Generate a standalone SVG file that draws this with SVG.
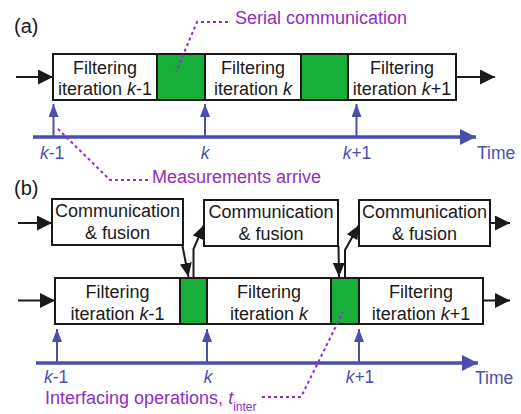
<svg xmlns="http://www.w3.org/2000/svg" width="521" height="414" viewBox="0 0 521 414">
<style>
.box{fill:#fff;stroke:#1a1a1a;stroke-width:2}
.grn{fill:#17ae3a;stroke:#1a1a1a;stroke-width:2}
.t{font-family:"Liberation Sans",Arial,sans-serif;font-size:18px;fill:#1a1a1a;text-anchor:middle}
.bl{font-family:"Liberation Sans",Arial,sans-serif;font-size:17.5px;fill:#4a4fae}
.pu{font-family:"Liberation Sans",Arial,sans-serif;font-size:18px;fill:#8e2fc0}
.lab{font-family:"Liberation Sans",Arial,sans-serif;font-size:20px;fill:#1a1a1a}
.blk{stroke:#1a1a1a;stroke-width:2;fill:none}
.blu{stroke:#4a4fae;stroke-width:2;fill:none}
.axis{stroke:#4a4fae;stroke-width:3.5;fill:none}
.dot{stroke:#8e2fc0;stroke-width:2;stroke-dasharray:3,3;fill:none}
</style>
<defs>
<marker id="ab" markerUnits="userSpaceOnUse" markerWidth="15" markerHeight="15" refX="15" refY="7.5" orient="auto"><path d="M0,0 L15,7.5 L0,15 z" fill="#1a1a1a"/></marker>
<marker id="ac" markerUnits="userSpaceOnUse" markerWidth="14" markerHeight="12" refX="14" refY="6" orient="auto"><path d="M0,0 L14,6 L0,12 z" fill="#1a1a1a"/></marker>
<marker id="au" markerUnits="userSpaceOnUse" markerWidth="13" markerHeight="10" refX="13" refY="5" orient="auto"><path d="M0,0 L13,5 L0,10 z" fill="#4a4fae"/></marker>
<marker id="ax" markerUnits="userSpaceOnUse" markerWidth="16" markerHeight="16" refX="16" refY="8" orient="auto"><path d="M0,0 L16,8 L0,16 z" fill="#4a4fae"/></marker>
</defs>

<text class="lab" x="14" y="33">(a)</text>
<text class="lab" x="14" y="195">(b)</text>

<!-- (a) row -->
<g id="a-filter-k-1"><rect class="box" x="53" y="54" width="104" height="46"/><text class="t" x="105" y="74">Filtering</text><text class="t" x="105" y="95">iteration <tspan font-style="italic">k</tspan>-1</text></g>
<g id="a-comm-1"><rect class="grn" x="157" y="54" width="48" height="46"/></g>
<g id="a-filter-k"><rect class="box" x="205" y="54" width="96" height="46"/><text class="t" x="253" y="74">Filtering</text><text class="t" x="253" y="95">iteration <tspan font-style="italic">k</tspan></text></g>
<g id="a-comm-2"><rect class="grn" x="301" y="54" width="47" height="46"/></g>
<g id="a-filter-k+1"><rect class="box" x="348" y="54" width="108" height="46"/><text class="t" x="402" y="74">Filtering</text><text class="t" x="402" y="95">iteration <tspan font-style="italic">k</tspan>+1</text></g>

<g id="a-labels">
<text class="bl" x="40" y="159"><tspan font-style="italic">k</tspan>-1</text>
<text class="bl" x="205" y="159" text-anchor="middle" font-style="italic">k</text>
<text class="bl" x="357" y="159" text-anchor="middle"><tspan font-style="italic">k</tspan>+1</text>
<text class="bl" x="477" y="159">Time</text>
<text class="pu" x="235" y="24" font-size="17">Serial communication</text>
<text class="pu" x="152" y="183">Measurements arrive</text>
</g>

<!-- (b) comm row -->
<g id="b-comm-1"><rect class="box" x="52" y="199" width="131" height="46"/><text class="t" x="117.5" y="217">Communication</text><text class="t" x="117.5" y="239">&amp; fusion</text></g>
<g id="b-comm-2"><rect class="box" x="204" y="200" width="134" height="46"/><text class="t" x="271" y="218">Communication</text><text class="t" x="271" y="240">&amp; fusion</text></g>
<g id="b-comm-3"><rect class="box" x="359" y="200" width="131" height="46"/><text class="t" x="424.5" y="218">Communication</text><text class="t" x="424.5" y="240">&amp; fusion</text></g>

<!-- (b) filter row -->
<g id="b-filter-k-1"><rect class="box" x="55" y="278" width="125" height="46"/><text class="t" x="117.5" y="298">Filtering</text><text class="t" x="117.5" y="320">iteration <tspan font-style="italic">k</tspan>-1</text></g>
<g id="b-inter-1"><rect class="grn" x="180" y="278" width="27" height="46"/></g>
<g id="b-filter-k"><rect class="box" x="207" y="278" width="124" height="46"/><text class="t" x="269" y="298">Filtering</text><text class="t" x="269" y="320">iteration <tspan font-style="italic">k</tspan></text></g>
<g id="b-inter-2"><rect class="grn" x="331" y="278" width="28" height="46"/></g>
<g id="b-filter-k+1"><rect class="box" x="359" y="278" width="124" height="46"/><text class="t" x="421" y="298">Filtering</text><text class="t" x="421" y="320">iteration <tspan font-style="italic">k</tspan>+1</text></g>

<g id="b-labels">
<text class="bl" x="44" y="383"><tspan font-style="italic">k</tspan>-1</text>
<text class="bl" x="208" y="383" text-anchor="middle" font-style="italic">k</text>
<text class="bl" x="360" y="383" text-anchor="middle"><tspan font-style="italic">k</tspan>+1</text>
<text class="bl" x="475" y="384">Time</text>
<text class="pu" x="45" y="404">Interfacing operations, <tspan font-style="italic">t</tspan><tspan font-size="12" dy="7">inter</tspan></text>
</g>

<g id="connectors">
<!-- (a) -->
<line class="blk" x1="16" y1="77" x2="53" y2="77" marker-end="url(#ab)"/>
<line class="blk" x1="456" y1="77" x2="495" y2="77" marker-end="url(#ab)"/>
<line class="axis" x1="33" y1="137" x2="476" y2="137" marker-end="url(#ax)"/>
<line class="blu" x1="53.5" y1="137" x2="53.5" y2="104" marker-end="url(#au)"/>
<line class="blu" x1="205" y1="137" x2="205" y2="104" marker-end="url(#au)"/>
<line class="blu" x1="356.5" y1="137" x2="356.5" y2="104" marker-end="url(#au)"/>
<polyline class="dot" points="228,22 197,22 176,72"/>
<polyline class="dot" points="148,180 110,180 57,128"/>
<!-- (b) -->
<line class="blk" x1="18" y1="223" x2="52" y2="223" marker-end="url(#ab)"/>
<line class="blk" x1="490" y1="223" x2="510" y2="223" marker-end="url(#ab)"/>
<line class="blk" x1="18" y1="300.5" x2="55" y2="300.5" marker-end="url(#ab)"/>
<line class="blk" x1="483" y1="300.5" x2="510" y2="300.5" marker-end="url(#ab)"/>
<line class="blk" x1="182.5" y1="246" x2="188.5" y2="277" marker-end="url(#ac)"/>
<polyline class="blk" points="193.5,277 193.5,249 204,225" marker-end="url(#ac)"/>
<line class="blk" x1="338.5" y1="246" x2="339" y2="277" marker-end="url(#ac)"/>
<polyline class="blk" points="345,277 345,250 359,225" marker-end="url(#ac)"/>
<line class="axis" x1="36" y1="363" x2="478" y2="363" marker-end="url(#ax)"/>
<line class="blu" x1="57" y1="363" x2="57" y2="329" marker-end="url(#au)"/>
<line class="blu" x1="207" y1="363" x2="207" y2="329" marker-end="url(#au)"/>
<line class="blu" x1="359" y1="363" x2="359" y2="329" marker-end="url(#au)"/>
<polyline class="dot" points="262,397 301,397 343,312"/>
</g>
</svg>
